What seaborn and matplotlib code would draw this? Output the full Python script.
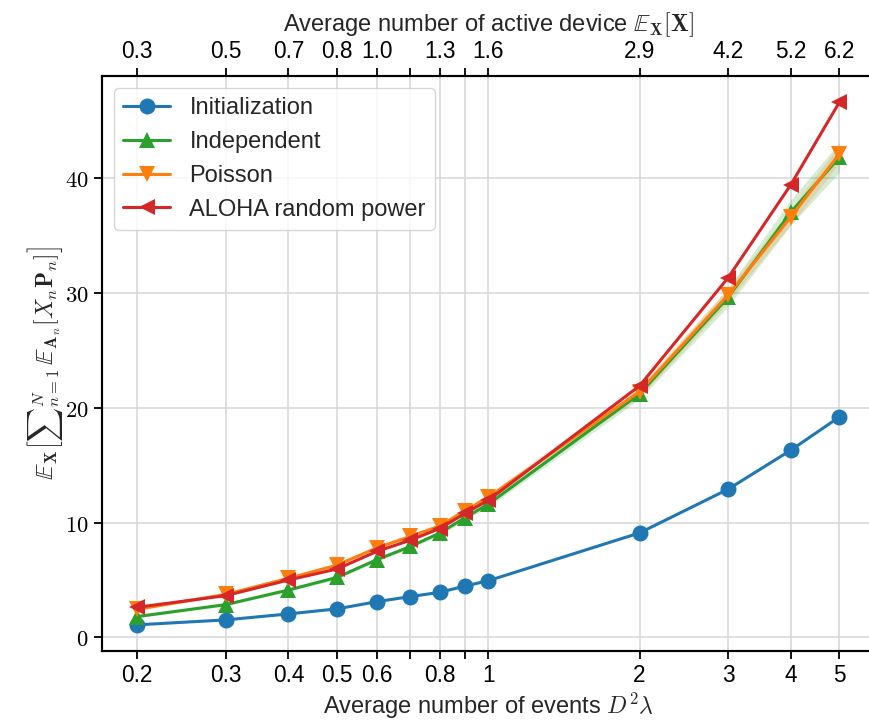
import numpy as np
import pandas as pd
import matplotlib
matplotlib.use("Agg")
import matplotlib.pyplot as plt
import seaborn as sns
from matplotlib.ticker import FixedLocator, FixedFormatter, FuncFormatter, NullLocator

# ---------------- data ----------------
events = [0.2, 0.3, 0.4, 0.5, 0.6, 0.7, 0.8, 0.9, 1.0, 2.0, 3.0, 4.0, 5.0]
bottom_labels = ["0.2", "0.3", "0.4", "0.5", "0.6", "", "0.8", "", "1", "2", "3", "4", "5"]
top_labels = ["0.3", "0.5", "0.7", "0.8", "1.0", "", "1.3", "", "1.6", "2.9", "4.2", "5.2", "6.2"]

initialization = [1.1, 1.53, 2.05, 2.49, 3.12, 3.56, 3.93, 4.48, 4.94, 9.1, 12.9, 16.3, 19.2]
independent = [1.82, 2.86, 4.13, 5.23, 6.77, 7.92, 9.08, 10.44, 11.6, 21.2, 29.6, 37.0, 41.8]
poisson = [2.45, 3.75, 5.15, 6.3, 7.8, 8.8, 9.7, 11.05, 12.2, 21.4, 29.8, 36.6, 42.1]
aloha = [2.63, 3.64, 5.0, 5.96, 7.49, 8.47, 9.48, 10.81, 11.94, 21.9, 31.3, 39.4, 46.6]

independent_ci = [0.1, 0.1, 0.12, 0.15, 0.15, 0.15, 0.2, 0.2, 0.25, 0.45, 0.8, 1.1, 1.3]
poisson_ci = [0.1, 0.1, 0.12, 0.15, 0.15, 0.2, 0.2, 0.25, 0.3, 0.5, 0.6, 0.7, 0.8]

series_names = ["Initialization", "Independent", "Poisson", "ALOHA random power"]

# ---------------- style ----------------
FS = 17
TFS = 16.3
sns.set_theme(style="whitegrid")
plt.rcParams["font.family"] = ["Liberation Sans", "DejaVu Sans"]
plt.rcParams["mathtext.fontset"] = "cm"
plt.rcParams.update({
    "font.size": FS,
    "axes.edgecolor": "black",
    "axes.linewidth": 1.5,
    "grid.color": "#d9d9d9",
    "grid.linewidth": 1.2,
    "xtick.bottom": True,
    "ytick.left": True,
    "xtick.major.size": 6,
    "ytick.major.size": 6,
    "xtick.major.width": 1.3,
    "ytick.major.width": 1.3,
    "xtick.color": "black",
    "ytick.color": "black",
    "xtick.labelsize": TFS,
    "ytick.labelsize": TFS,
})

fig = plt.figure(figsize=(8.69, 7.25), dpi=100)
ax = fig.add_axes([0.1174, 0.1021, 0.889, 0.7931])

pal = sns.color_palette("tab10")
colors = [pal[0], pal[2], pal[1], pal[3]]
markers = ["o", "^", "v", "<"]
values = [initialization, independent, poisson, aloha]
cis = [None, independent_ci, poisson_ci, None]

df = pd.DataFrame({"events": events})
for name, vals in zip(series_names, values):
    df[name] = vals

for name, col, mk, ci in zip(series_names, colors, markers, cis):
    if ci is not None:
        lo = np.array(df[name]) - np.array(ci)
        hi = np.array(df[name]) + np.array(ci)
        ax.fill_between(df["events"], lo, hi, color=col, alpha=0.2, linewidth=0)
    sns.lineplot(data=df, x="events", y=name, ax=ax, color=col, marker=mk,
                 markersize=11.5, linewidth=2.2, markeredgewidth=0, label=name)

ax.set_xscale("log")
ax.xaxis.set_major_locator(FixedLocator(events))
ax.xaxis.set_major_formatter(FixedFormatter(bottom_labels))
ax.xaxis.set_minor_locator(NullLocator())
ax.set_yticks([0, 10, 20, 30, 40])
ax.yaxis.set_major_formatter(FuncFormatter(lambda v, p: r"$%d$" % v))
ax.grid(True, which="major")

ax.set_xlabel(r"Average number of events $D^2\lambda$", fontsize=FS, labelpad=3)
ax.set_ylabel(r"$\mathbb{E}_{\mathbf{X}}\left[{\sum}_{n=1}^{N}\,\mathbb{E}_{\mathbf{A}_n}[X_n\mathbf{P}_n]\right]$",
              fontsize=FS, labelpad=0)

for side in ["top", "right", "left", "bottom"]:
    ax.spines[side].set_visible(True)
    ax.spines[side].set_color("black")

leg = ax.legend(loc="upper left", fontsize=FS, frameon=True, fancybox=True,
                edgecolor="#cccccc", framealpha=0.8, borderaxespad=0.5)

# top axis
ax2 = ax.twiny()
ax2.set_xscale("log")
ax2.set_xlim(ax.get_xlim())
ax2.xaxis.set_major_locator(FixedLocator(events))
ax2.xaxis.set_major_formatter(FixedFormatter(top_labels))
ax2.xaxis.set_minor_locator(NullLocator())
ax2.tick_params(axis="x", top=True, labeltop=True, length=6, width=1.3, labelsize=TFS, pad=3)
ax2.grid(False)
ax2.set_xlabel(r"Average number of active device $\mathbb{E}_{\mathbf{X}}[\mathbf{X}]$",
               fontsize=FS, labelpad=7)

fig.savefig("out.png", dpi=100)
